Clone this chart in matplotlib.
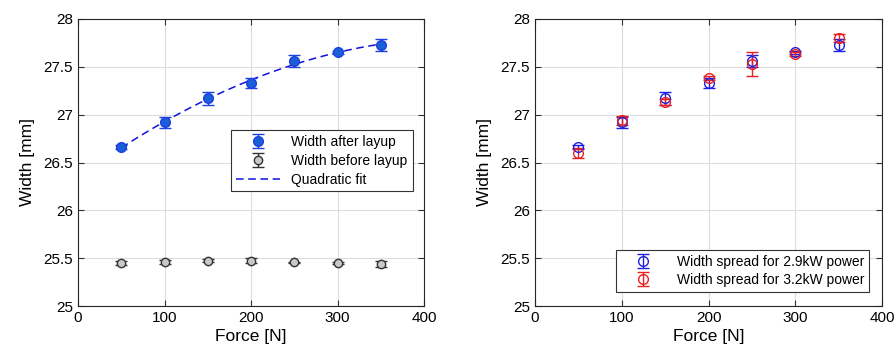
import numpy as np
import matplotlib.pyplot as plt

plt.rcParams['font.family'] = ['Liberation Sans', 'DejaVu Sans']

force = [50, 100, 150, 200, 250, 300, 350]

# panel a: after / before layup
after_mean = [26.66, 26.92, 27.17, 27.33, 27.56, 27.65, 27.73]
after_err = [0.02, 0.06, 0.07, 0.05, 0.06, 0.02, 0.06]
before_mean = [25.45, 25.46, 25.475, 25.475, 25.455, 25.45, 25.44]
before_err = [0.02, 0.025, 0.02, 0.03, 0.01, 0.015, 0.03]

# panel b: width spread per power
w29_mean = [26.66, 26.92, 27.17, 27.33, 27.56, 27.65, 27.73]
w29_err = [0.02, 0.06, 0.07, 0.05, 0.06, 0.02, 0.06]
w32_mean = [26.60, 26.94, 27.13, 27.38, 27.53, 27.63, 27.80]
w32_err = [0.05, 0.05, 0.03, 0.02, 0.125, 0.02, 0.04]

fig = plt.figure(figsize=(8.96, 3.61), dpi=100)
ax1 = fig.add_axes([78/896, 1-306/361, 346/896, 287/361])
ax2 = fig.add_axes([535/896, 1-306/361, 347/896, 287/361])

def style(ax):
    ax.set_xlim(0, 400)
    ax.set_ylim(25, 28)
    ax.set_xticks([0, 100, 200, 300, 400])
    ax.set_yticks([25, 25.5, 26, 26.5, 27, 27.5, 28])
    ax.set_yticklabels(['25', '25.5', '26', '26.5', '27', '27.5', '28'])
    ax.grid(True, color='#dcdcdc', linewidth=0.8)
    ax.set_axisbelow(True)
    ax.tick_params(direction='in', top=True, right=True, labelsize=11, length=4, color='#333333')
    for s in ax.spines.values():
        s.set_color('#262626')
        s.set_linewidth(0.8)
    ax.set_xlabel('Force [N]', fontsize=12.5, labelpad=3)
    ax.set_ylabel('Width [mm]', fontsize=12.5, labelpad=6)

# left panel
x = np.array(force)
coef = np.polyfit(x, after_mean, 2)
xf = np.linspace(50, 350, 100)
h1 = ax1.errorbar(force, after_mean, yerr=after_err, fmt='o', color='#1f3fe0', mfc='#1a5ed8',
                  mec='#1f3fe0', ms=7, capsize=4, elinewidth=1, label='Width after layup', zorder=3)
h2 = ax1.errorbar(force, before_mean, yerr=before_err, fmt='o', color='#333333', mfc='#c8c8c8',
                  mec='#333333', ms=6, capsize=4, elinewidth=1, label='Width before layup', zorder=3)
h3, = ax1.plot(xf, np.polyval(coef, xf), '--', color='#1010e0', linewidth=1.1, dashes=(5, 3),
               label='Quadratic fit', zorder=2)
style(ax1)
leg = ax1.legend(handles=[h1, h2, h3], loc='upper left', bbox_to_anchor=(153/346, (306-130)/287),
                 fontsize=10, fancybox=False, edgecolor='#333333', framealpha=1, borderaxespad=0,
                 handlelength=3.2, labelspacing=0.35, borderpad=0.35)
leg.get_frame().set_linewidth(0.8)

# right panel
ax2.errorbar(force, w29_mean, yerr=w29_err, fmt='o', color='#1f1fe0', mfc='none',
             ms=7, capsize=4, elinewidth=1, label='Width spread for 2.9kW power', zorder=3)
ax2.errorbar(force, w32_mean, yerr=w32_err, fmt='o', color='#e82020', mfc='none',
             ms=7, capsize=4, elinewidth=1, label='Width spread for 3.2kW power', zorder=3)
style(ax2)
leg2 = ax2.legend(loc='lower right', bbox_to_anchor=((869-535)/347, (306-292)/287), fontsize=10,
                  fancybox=False, edgecolor='#333333', framealpha=1, borderaxespad=0,
                  handlelength=3.2, labelspacing=0.3, borderpad=0.35)
leg2.get_frame().set_linewidth(0.8)

fig.savefig('out.png', dpi=100)
